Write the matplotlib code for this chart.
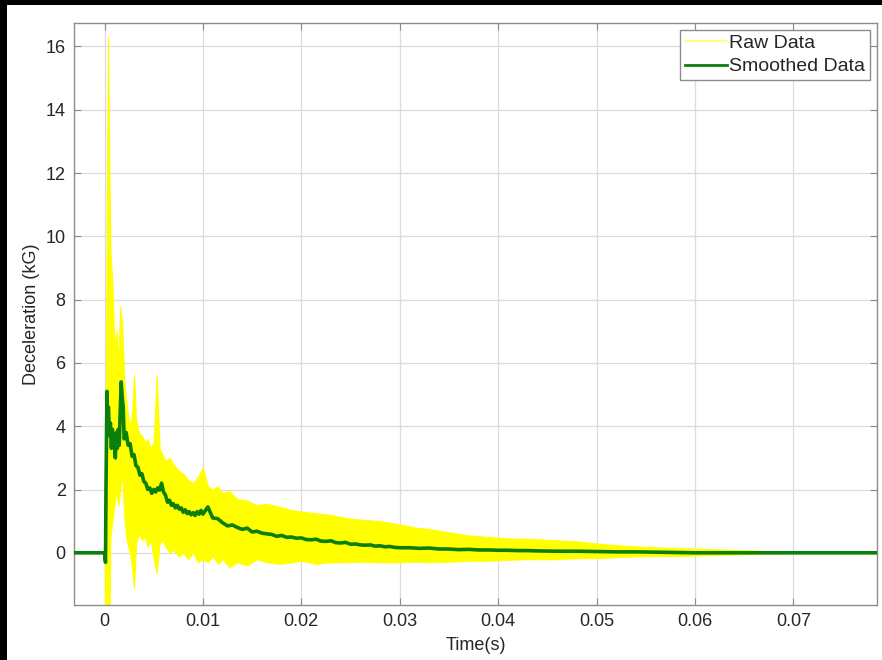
# Deceleration trace: raw vs smoothed
import numpy as np
import matplotlib.pyplot as plt
from matplotlib.lines import Line2D
from matplotlib.patches import Rectangle

plt.rcParams['font.family'] = ['Liberation Sans', 'DejaVu Sans']

# Raw data envelope (upper / lower edge of the yellow band)
raw_t = [-0.0031, 0.0000, 0.0001, 0.0002, 0.00035, 0.0005, 0.0006, 0.0008, 0.0010,
         0.0012, 0.0014, 0.0016, 0.0018, 0.0020, 0.0022, 0.0024, 0.0026, 0.0028,
         0.0030, 0.0032, 0.0035, 0.0038, 0.0041, 0.0044, 0.0047, 0.0050, 0.0053,
         0.0056, 0.0059, 0.0062, 0.0066, 0.0070, 0.0075, 0.0080, 0.0085, 0.0090,
         0.0095, 0.0100, 0.0105, 0.0110, 0.0115, 0.0120, 0.0127, 0.0135, 0.0145,
         0.0155, 0.0165, 0.0178, 0.0190, 0.0200, 0.0215, 0.0229, 0.0245, 0.0260,
         0.0280, 0.0300, 0.0315, 0.0330, 0.0350, 0.0370, 0.0390, 0.0410, 0.0430,
         0.0456, 0.0480, 0.0504, 0.0530, 0.0560, 0.0590, 0.0605, 0.0630, 0.0655,
         0.0673, 0.0690, 0.0785]
raw_hi = [0.0, 0.0, 2.0, 9.0, 16.3, 12.0, 9.5, 8.5, 6.5,
          7.0, 6.0, 7.8, 7.2, 5.5, 4.8, 4.3, 4.0, 4.4,
          5.6, 4.2, 3.8, 3.7, 3.5, 3.6, 3.3, 3.5, 5.6,
          3.3, 3.1, 2.9, 3.0, 2.8, 2.6, 2.5, 2.3, 2.2,
          2.4, 2.7, 2.1, 2.0, 2.1, 1.9, 1.95, 1.7, 1.65,
          1.5, 1.55, 1.45, 1.35, 1.3, 1.25, 1.2, 1.1, 1.05,
          1.0, 0.9, 0.8, 0.75, 0.65, 0.55, 0.5, 0.45, 0.45,
          0.4, 0.36, 0.28, 0.22, 0.17, 0.14, 0.13, 0.10, 0.08,
          0.05, 0.02, 0.0]
raw_lo = [0.0, 0.0, -3.0, -3.0, -1.0, -2.5, 0.5, 1.0, 1.5,
          2.0, 1.5, 2.0, 2.5, 1.2, 0.5, 0.2, 0.0, -0.5,
          -1.1, 0.3, 0.6, 0.4, 0.5, 0.2, 0.4, -0.2, -0.65,
          0.3, 0.4, 0.2, 0.0, 0.1, -0.1, 0.0, -0.2, 0.0,
          -0.3, -0.2, -0.3, -0.1, -0.35, -0.2, -0.45, -0.3, -0.4,
          -0.2, -0.3, -0.35, -0.3, -0.25, -0.35, -0.3, -0.3, -0.28,
          -0.3, -0.3, -0.28, -0.3, -0.28, -0.25, -0.25, -0.22, -0.2,
          -0.2, -0.17, -0.16, -0.12, -0.1, -0.1, -0.08, -0.06, -0.04,
          -0.02, 0.0, 0.0]

# Smoothed data
sm_t = [-0.0031, 0.0000, 0.0001, 0.00015, 0.0002, 0.00025, 0.0003, 0.0004, 0.0005,
        0.0006, 0.0007, 0.0008, 0.0009, 0.0010, 0.0011, 0.0012, 0.0013, 0.0014,
        0.0015, 0.0016, 0.0017, 0.0018, 0.0019,
        0.0020, 0.0022, 0.0024, 0.0026, 0.0028, 0.0030, 0.0032, 0.0034, 0.0036,
        0.0038, 0.0040, 0.0042, 0.0044, 0.0046, 0.0048, 0.0050, 0.0052, 0.0054,
        0.0056, 0.0058, 0.0060, 0.0062, 0.0064, 0.0066, 0.0068, 0.0070, 0.0072,
        0.0074, 0.0076, 0.0078, 0.0080, 0.0082, 0.0084, 0.0086, 0.0088, 0.0090,
        0.0092, 0.0094, 0.0096, 0.0098, 0.0100,
        0.0105, 0.0110, 0.0115, 0.0120, 0.0125, 0.0130, 0.0135, 0.0140, 0.0145,
        0.0150, 0.0155, 0.0160, 0.0165, 0.0170, 0.0175, 0.0180, 0.0185, 0.0190,
        0.0195, 0.0200, 0.0205, 0.0210, 0.0215, 0.0220, 0.0225, 0.0230, 0.0235,
        0.0240, 0.0245, 0.0250, 0.0255, 0.0260, 0.0265, 0.0270, 0.0275, 0.0280,
        0.0285, 0.0290, 0.0295, 0.0300,
        0.031, 0.032, 0.033, 0.034, 0.035, 0.036, 0.037, 0.038, 0.039, 0.040,
        0.041, 0.042, 0.043, 0.044, 0.046, 0.048, 0.050, 0.052, 0.054, 0.056,
        0.058, 0.060, 0.0785]
sm_v = [0.0, 0.0, -0.30, 2.0, 3.5, 5.1, 4.4, 4.6, 3.7,
        4.1, 3.3, 3.9, 3.4, 3.6, 3.0, 3.8, 3.3, 3.9,
        3.4, 4.5, 5.4, 4.9, 4.6,
        3.6, 3.8, 3.4, 3.45, 3.05, 3.1, 2.75, 2.7, 2.45,
        2.5, 2.25, 2.2, 2.0, 2.05, 1.88, 2.0, 1.92, 2.05,
        1.98, 2.2, 1.92, 1.82, 1.6, 1.66, 1.5, 1.55, 1.42,
        1.5, 1.38, 1.42, 1.28, 1.36, 1.24, 1.3, 1.2, 1.27,
        1.18, 1.3, 1.22, 1.34, 1.22,
        1.45, 1.1, 1.08, 0.95, 0.85, 0.88, 0.8, 0.74, 0.78,
        0.66, 0.68, 0.62, 0.6, 0.58, 0.52, 0.55, 0.49, 0.5,
        0.46, 0.47, 0.42, 0.41, 0.43, 0.37, 0.36, 0.38, 0.32,
        0.31, 0.33, 0.27, 0.28, 0.25, 0.24, 0.25, 0.21, 0.22,
        0.19, 0.2, 0.17, 0.16,
        0.16, 0.14, 0.15, 0.12, 0.12, 0.10, 0.11, 0.09, 0.09, 0.08,
        0.08, 0.07, 0.07, 0.06, 0.05, 0.05, 0.04, 0.03, 0.03, 0.02,
        0.01, 0.0, 0.0]

x_ticks = [0, 0.01, 0.02, 0.03, 0.04, 0.05, 0.06, 0.07]
x_labels = ['0', '0.01', '0.02', '0.03', '0.04', '0.05', '0.06', '0.07']
y_ticks = [0, 2, 4, 6, 8, 10, 12, 14, 16]

fig = plt.figure(figsize=(8.82, 6.6), dpi=100)
fig.patch.set_facecolor('white')
ax = fig.add_axes([0.0839, 0.0833, 0.9104, 0.8823])

ax.fill_between(raw_t, raw_lo, raw_hi, color='#ffff00', linewidth=0.8,
                edgecolor='#ffff00', zorder=2)
ax.plot(sm_t, sm_v, color='#0b7f0b', linewidth=2.6, zorder=3)

ax.set_xlim(-0.0031, 0.0785)
ax.set_ylim(-1.65, 16.75)
ax.set_xticks(x_ticks)
ax.set_xticklabels(x_labels)
ax.set_yticks(y_ticks)

ax.grid(True, color='#dcdcdc', linewidth=0.9, zorder=0)
ax.set_axisbelow(True)
for s in ax.spines.values():
    s.set_color('#8c8c8c')
    s.set_linewidth(1.0)
ax.tick_params(direction='in', top=True, right=True, length=5,
               color='#8c8c8c', labelsize=13, labelcolor='#262626', pad=6)

ax.set_xlabel('Time(s)', fontsize=13, color='#262626', labelpad=5)
ax.set_ylabel('Deceleration (kG)', fontsize=13, color='#262626', labelpad=4)

handles = [Line2D([], [], color='#ffff66', linewidth=1.2),
           Line2D([], [], color='#0b7f0b', linewidth=2)]
leg = ax.legend(handles, ['Raw Data', 'Smoothed Data'], loc='upper right',
                fontsize=14, frameon=True, fancybox=False, framealpha=1,
                edgecolor='#8c8c8c', handlelength=2.2, handletextpad=0.1,
                labelspacing=0.3, borderpad=0.25, borderaxespad=0.35)
leg.get_frame().set_linewidth(1.0)
for t in leg.get_texts():
    t.set_color('#262626')

# black frame strips at top and left of the image
fig.patches.append(Rectangle((0, 1 - 5 / 660), 1, 5 / 660, transform=fig.transFigure,
                             facecolor='black', edgecolor='none'))
fig.patches.append(Rectangle((0, 0), 7 / 882, 1, transform=fig.transFigure,
                             facecolor='black', edgecolor='none'))

plt.savefig('out.png', dpi=100)
